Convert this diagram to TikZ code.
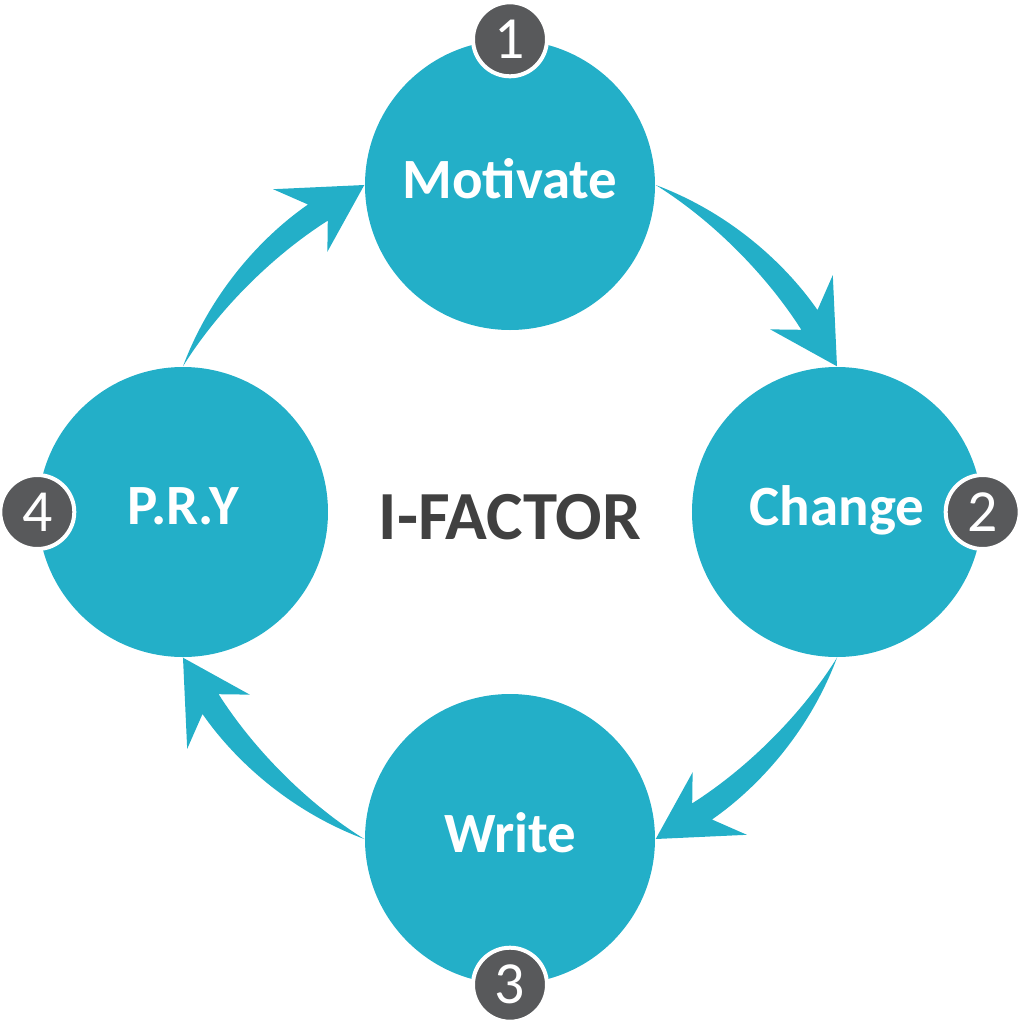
\documentclass[tikz,border=0pt]{standalone}
\usepackage{fontspec}
\setmainfont{Carlito}
\usetikzlibrary{calc}
\definecolor{ifteal}{HTML}{23AFC8}
\definecolor{ifgray}{HTML}{58595B}
\definecolor{iftext}{HTML}{404040}
\begin{document}
\begin{tikzpicture}[
  stage/.style={circle,fill=ifteal,minimum size=2.9cm,inner sep=0pt,text=white,text depth=0.35em,font=\fontsize{16.2}{18}\selectfont\bfseries},
  badge/.style={circle,fill=ifgray,draw=white,line width=0.04cm,minimum size=0.74cm,inner sep=0pt,text=white,font=\fontsize{17}{20}\selectfont}]
\useasboundingbox (-5.10,-5.12) rectangle (5.09,5.12);
\node[stage] (mot) at (0,3.27) {Motivate};
\node[stage] (chg) at (3.27,0) {Change};
\node[stage] (wri) at (0,-3.27) {Write};
\node[stage] (pry) at (-3.27,0) {P.R.Y};
\node[text=iftext,font=\fontsize{19.6}{22}\selectfont\bfseries] (fac) at (0,-0.05) {I-FACTOR};
% curved arrows between the stages
\foreach \s/\t in {mot.east/chg.north,chg.south/wri.east,wri.west/pry.south,pry.north/mot.west} {
  \coordinate (on) at ($(\s)!0.791!(\t)!0.26cm!90:(\t)$);
  \coordinate (bo) at ($(\s)!0.737!(\t)!0.615cm!90:(\t)$);
  \coordinate (bi) at ($(\s)!0.714!(\t)!-0.211cm!90:(\t)$);
  \coordinate (in) at ($(\s)!0.801!(\t)!0.006cm!90:(\t)$);
  \fill[ifteal] (\s) .. controls ($(\s)!0.3!(\t)!0.35cm!90:(\t)$) and ($(\s)!0.6!(\t)!0.35cm!90:(\t)$) .. (on)
    -- (bo) -- (\t) -- (bi) -- (in)
    .. controls ($(\s)!0.55!(\t)!0.15cm!90:(\t)$) and ($(\s)!0.25!(\t)!0.15cm!90:(\t)$) .. (\s) -- cycle;
}
\node[badge] (n1) at (mot.north) {1};
\node[badge] (n2) at (chg.east) {2};
\node[badge] (n3) at (wri.south) {3};
\node[badge] (n4) at (pry.west) {4};
\end{tikzpicture}
\end{document}
